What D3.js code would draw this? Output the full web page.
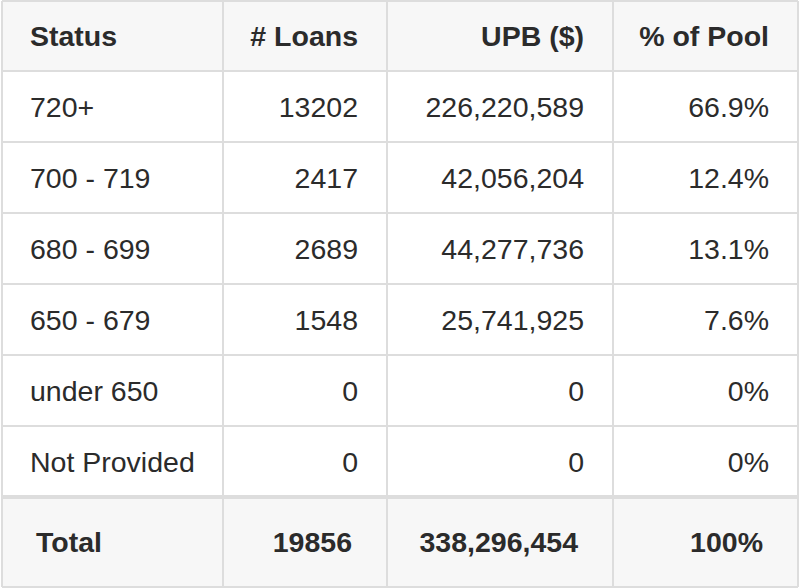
<!DOCTYPE html>
<html><head><meta charset="utf-8">
<script src="https://cdn.jsdelivr.net/npm/d3@7"></script>
<style>body{margin:0;background:#fff}</style>
</head><body>
<svg id="c" width="800" height="588"></svg>
<script>
const headers = ["Status", "# Loans", "UPB ($)", "% of Pool"];
const statuses = ["720+", "700 - 719", "680 - 699", "650 - 679", "under 650", "Not Provided"];
const loans = ["13202", "2417", "2689", "1548", "0", "0"];
const upb = ["226,220,589", "42,056,204", "44,277,736", "25,741,925", "0", "0"];
const pct = ["66.9%", "12.4%", "13.1%", "7.6%", "0%", "0%"];
const totals = ["Total", "19856", "338,296,454", "100%"];

const svg = d3.select("#c");
const colEdges = [2, 223, 387, 613, 798];
const rowEdges = [1, 71, 142, 213, 284, 355, 426, 497, 587];
const font = "'Liberation Sans', Arial, Helvetica, sans-serif";

const rows = [{cells: headers, bold: true, bg: "#f7f7f7", pad: 29}];
statuses.forEach((s, i) => rows.push({cells: [s, loans[i], upb[i], pct[i]], bold: false, bg: "#fff", pad: 29}));
rows.push({cells: totals, bold: true, bg: "#f7f7f7", pad: 35});

rows.forEach((r, ri) => {
  const y0 = rowEdges[ri], y1 = rowEdges[ri + 1];
  svg.append("rect").attr("x", colEdges[0]).attr("y", y0).attr("width", colEdges[4] - colEdges[0]).attr("height", y1 - y0).attr("fill", r.bg);
  r.cells.forEach((t, ci) => {
    const left = ci === 0;
    svg.append("text")
      .attr("x", left ? colEdges[ci] + r.pad - 1 : colEdges[ci + 1] - r.pad)
      .attr("y", (y0 + y1) / 2 + 10)
      .attr("text-anchor", left ? "start" : "end")
      .attr("font-family", font).attr("font-size", 28.5)
      .attr("font-weight", r.bold ? "bold" : "normal")
      .attr("fill", "#2b2b2b").text(t);
  });
});
rowEdges.forEach((y, i) => {
  svg.append("line").attr("x1", colEdges[0]).attr("x2", colEdges[4]).attr("y1", y).attr("y2", y)
    .attr("stroke", "#ddd").attr("stroke-width", i === 7 ? 4 : 2);
});
colEdges.forEach(x => {
  svg.append("line").attr("x1", x).attr("x2", x).attr("y1", rowEdges[0]).attr("y2", rowEdges[8])
    .attr("stroke", "#ddd").attr("stroke-width", 2);
});
</script>
</body></html>
